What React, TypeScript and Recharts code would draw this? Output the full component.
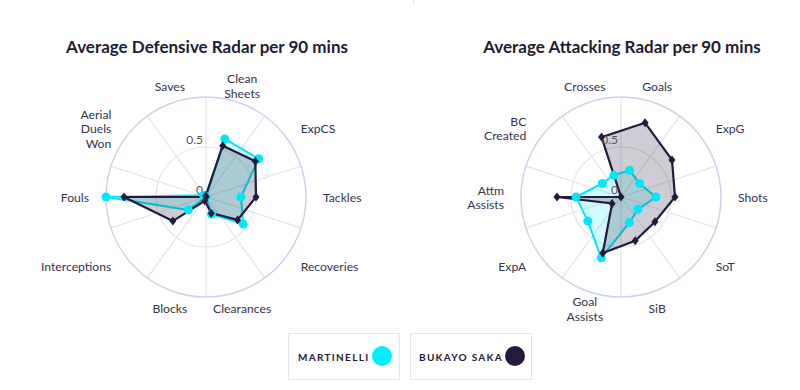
import React from "react";
import {
  RadarChart,
  Radar,
  PolarGrid,
  PolarAngleAxis,
  PolarRadiusAxis,
} from "recharts";

const defCategories = [
  "Clean Sheets",
  "ExpCS",
  "Tackles",
  "Recoveries",
  "Clearances",
  "Blocks",
  "Interceptions",
  "Fouls",
  "Aerial Duels Won",
  "Saves",
];
const martinelliDef = [0.61, 0.65, 0.35, 0.46, 0.18, 0, 0.22, 1.0, 0.03, 0];
const sakaDef = [0.54, 0.61, 0.5, 0.39, 0.17, 0.04, 0.41, 0.82, 0, 0.01];

const atkCategories = [
  "Goals",
  "ExpG",
  "Shots",
  "SoT",
  "SiB",
  "Goal Assists",
  "ExpA",
  "Attm Assists",
  "BC Created",
  "Crosses",
];
const martinelliAtk = [0.28, 0.23, 0.35, 0.21, 0.27, 0.64, 0.41, 0.45, 0.23, 0.23];
const sakaAtk = [0.78, 0.63, 0.54, 0.42, 0.46, 0.59, 0.11, 0.64, 0, 0.63];

const radiusTicks = [0, 0.5];
const players = ["MARTINELLI", "BUKAYO SAKA"];

const CYAN = "#00e8f8";
const DARK = "#231a3d";
const TEXT = "#34344e";
const FONT = "Lato, 'Open Sans', sans-serif";

const OUTER = 100;
const LABEL_R = 117;
const SPOKES = [18, 54, 90, 126, 162, 198, 234, 270, 306, 342];

const buildRows = (cats: string[], a: number[], b: number[]) =>
  cats.map((c, i) => ({ category: c, martinelli: a[i], saka: b[i] }));

const makeAngleTick = (cx: number, cy: number) => (props: any) => {
  const { index, payload } = props;
  const deg = 72 - 36 * index;
  const rad = (deg * Math.PI) / 180;
  const x = cx + LABEL_R * Math.cos(rad);
  const y = cy - LABEL_R * Math.sin(rad);
  const c = Math.cos(rad);
  const anchor = Math.abs(c) < 0.5 ? "middle" : c > 0 ? "start" : "end";
  const lines = String(payload.value).split(" ");
  const lh = 14.5;
  const top = y - ((lines.length - 1) * lh) / 2;
  return (
    <text
      x={x}
      y={top}
      textAnchor={anchor}
      fill={TEXT}
      fontSize={12.2}
      fontFamily={FONT}
      dominantBaseline="central"
    >
      {lines.map((l, i) => (
        <tspan key={i} x={x} y={top + i * lh} dominantBaseline="central">
          {l}
        </tspan>
      ))}
    </text>
  );
};

const RadiusTick = (props: any) => {
  const { x, y, payload } = props;
  return (
    <text
      x={x - 3}
      y={y - 3}
      textAnchor="end"
      fill="#555"
      fontSize={12}
      fontFamily={FONT}
    >
      {payload.value}
    </text>
  );
};

const cyanDot = (p: any) => (
  <circle key={`c-${p.index}`} cx={p.cx} cy={p.cy} r={4.5} fill={CYAN} />
);

const darkDot = (p: any) => (
  <path
    key={`d-${p.index}`}
    d={`M${p.cx},${p.cy - 4.5} L${p.cx + 3.5},${p.cy} L${p.cx},${p.cy + 4.5} L${p.cx - 3.5},${p.cy} Z`}
    fill={DARK}
  />
);

function PlayerRadar({ data, cx, cy }: { data: any[]; cx: number; cy: number }) {
  return (
    <RadarChart
      width={414}
      height={390}
      cx={cx}
      cy={cy}
      outerRadius={OUTER}
      data={data}
      startAngle={72}
      endAngle={-288}
      margin={{ top: 0, right: 0, bottom: 0, left: 0 }}
    >
      <PolarGrid
        gridType="circle"
        polarRadius={[50]}
        polarAngles={SPOKES}
        stroke="#e4e4e8"
        strokeWidth={1.2}
      />
      <PolarGrid
        gridType="circle"
        polarRadius={[OUTER]}
        radialLines={false}
        stroke="#cdd3ea"
        strokeWidth={1.5}
      />
      <PolarAngleAxis
        dataKey="category"
        axisLine={false}
        tickLine={false}
        tick={makeAngleTick(cx, cy)}
      />
      <PolarRadiusAxis
        angle={90}
        domain={[0, 1]}
        ticks={radiusTicks as any}
        axisLine={false}
        tickLine={false}
        tick={RadiusTick}
      />
      <Radar
        dataKey="martinelli"
        stroke={CYAN}
        strokeWidth={2}
        fill={CYAN}
        fillOpacity={0.18}
        dot={cyanDot}
        isAnimationActive={false}
      />
      <Radar
        dataKey="saka"
        stroke={DARK}
        strokeWidth={2.2}
        fill={DARK}
        fillOpacity={0.22}
        dot={darkDot}
        isAnimationActive={false}
      />
    </RadarChart>
  );
}

const titleStyle: React.CSSProperties = {
  position: "absolute",
  top: 36,
  textAlign: "center",
  fontSize: 17,
  fontWeight: 700,
  color: "#1e1b33",
  fontFamily: FONT,
  whiteSpace: "nowrap",
};

const legendBox: React.CSSProperties = {
  position: "absolute",
  top: 333,
  height: 47,
  border: "1px solid #e6e6e6",
  boxSizing: "border-box",
  display: "flex",
  alignItems: "center",
  fontFamily: FONT,
  fontSize: 10,
  fontWeight: 700,
  letterSpacing: 1.3,
  color: "#1e1b33",
};

export default function App() {
  const defRows = buildRows(defCategories, martinelliDef, sakaDef);
  const atkRows = buildRows(atkCategories, martinelliAtk, sakaAtk);
  return (
    <div
      style={{
        position: "absolute",
        left: 0,
        top: 0,
        width: 800,
        height: 390,
        background: "#fff",
        overflow: "hidden",
      }}
    >
      <div
        style={{
          position: "absolute",
          left: 413,
          top: 0,
          width: 1,
          height: 5,
          background: "#e2e2e2",
        }}
      />
      <div style={{ ...titleStyle, left: 0, width: 414 }}>
        Average Defensive Radar per 90 mins
      </div>
      <div style={{ ...titleStyle, left: 444, width: 356 }}>
        Average Attacking Radar per 90 mins
      </div>
      <div style={{ position: "absolute", left: 0, top: 0 }}>
        <PlayerRadar data={defRows} cx={206} cy={197} />
      </div>
      <div style={{ position: "absolute", left: 414, top: 0 }}>
        <PlayerRadar data={atkRows} cx={207} cy={197} />
      </div>
      <div style={{ ...legendBox, left: 288, width: 112 }}>
        <span style={{ marginLeft: 9 }}>{players[0]}</span>
        <span
          style={{
            position: "absolute",
            left: 83,
            top: 12,
            width: 20,
            height: 20,
            borderRadius: 10,
            background: "#00f0ff",
          }}
        />
      </div>
      <div style={{ ...legendBox, left: 410, width: 122 }}>
        <span style={{ marginLeft: 8 }}>{players[1]}</span>
        <span
          style={{
            position: "absolute",
            left: 94,
            top: 12,
            width: 20,
            height: 20,
            borderRadius: 10,
            background: DARK,
          }}
        />
      </div>
    </div>
  );
}
